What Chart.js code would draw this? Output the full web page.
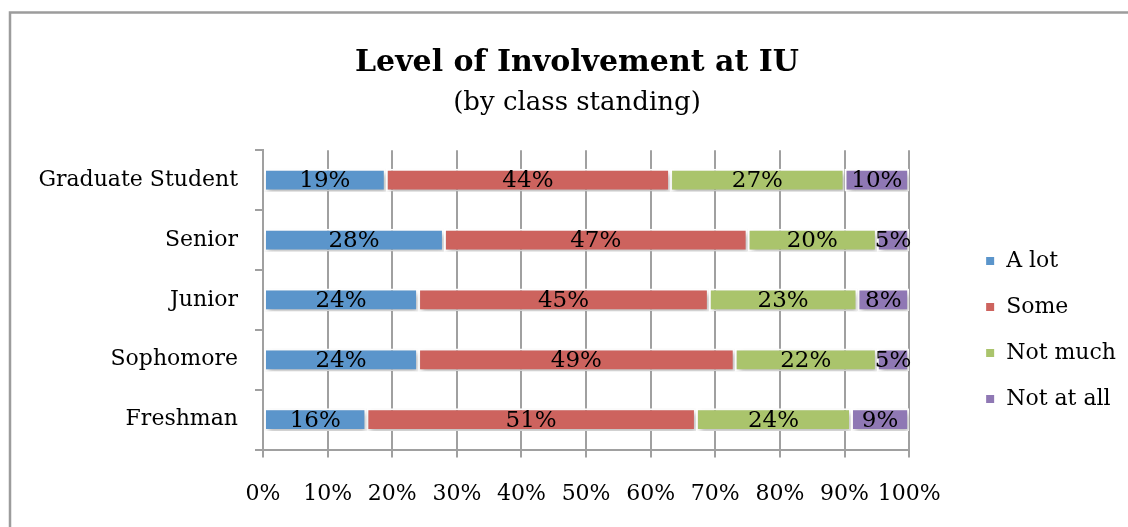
<!DOCTYPE html>
<html>
<head>
<meta charset="utf-8">
<script src="https://cdn.jsdelivr.net/npm/chart.js@4.4.1/dist/chart.umd.min.js"></script>
<style>
  html, body { margin: 0; padding: 0; background: #fff; }
  canvas { display: block; }
</style>
</head>
<body>
<canvas id="c" width="1128" height="527"></canvas>
<script>
const categories = ['Graduate Student', 'Senior', 'Junior', 'Sophomore', 'Freshman'];
const seriesNames = ['A lot', 'Some', 'Not much', 'Not at all'];
const aLot     = [19, 28, 24, 24, 16];
const some     = [44, 47, 45, 49, 51];
const notMuch  = [27, 20, 23, 22, 24];
const notAtAll = [10, 5, 8, 5, 9];
const seriesColors = ['#5B95CB', '#CD635E', '#AAC46C', '#8F78B4'];

const FONT = "'DejaVu Serif', serif";
const GRID = '#a0a0a0';

const framePlugin = {
  id: 'frame',
  beforeDraw(chart) {
    const ctx = chart.ctx;
    ctx.save();
    ctx.fillStyle = '#fff';
    ctx.fillRect(0, 0, chart.width, chart.height);
    ctx.strokeStyle = '#9c9c9c';
    ctx.lineWidth = 2.5;
    ctx.beginPath();
    ctx.moveTo(10, chart.height + 5);
    ctx.lineTo(10, 12.5);
    ctx.lineTo(chart.width + 5, 12.5);
    ctx.stroke();
    ctx.restore();
  }
};

const shadowPlugin = {
  id: 'barShadow',
  beforeDatasetsDraw(chart) {
    const ctx = chart.ctx;
    ctx.save();
    ctx.shadowColor = 'rgba(0,0,0,0.28)';
    ctx.shadowBlur = 5;
    ctx.shadowOffsetX = 2;
    ctx.shadowOffsetY = 3;
  },
  afterDatasetsDraw(chart) {
    chart.ctx.restore();
  }
};

const labelPlugin = {
  id: 'segLabels',
  afterDatasetsDraw(chart) {
    const ctx = chart.ctx;
    ctx.save();
    ctx.fillStyle = '#000';
    ctx.font = "23px " + FONT;
    ctx.textAlign = 'center';
    ctx.textBaseline = 'middle';
    chart.data.datasets.forEach((ds, di) => {
      const meta = chart.getDatasetMeta(di);
      meta.data.forEach((el, i) => {
        const cx = (el.x + el.base) / 2;
        ctx.fillText(ds.data[i] + '%', cx, el.y + 1);
      });
    });
    ctx.restore();
  }
};

const datasets = [aLot, some, notMuch, notAtAll].map((vals, k) => ({
  label: seriesNames[k],
  data: vals,
  backgroundColor: seriesColors[k],
  borderColor: '#ffffff',
  borderWidth: 2,
  borderSkipped: false,
  barPercentage: 0.38,
  categoryPercentage: 1.0,
  xAxisID: 'x',
  yAxisID: 'y'
}));

new Chart(document.getElementById('c'), {
  type: 'bar',
  data: { labels: categories, datasets },
  plugins: [framePlugin, shadowPlugin, labelPlugin],
  options: {
    indexAxis: 'y',
    responsive: false,
    animation: false,
    layout: { padding: { left: 28, right: 2, top: 0, bottom: -3 } },
    plugins: {
      title: {
        display: true,
        text: 'Level of Involvement at IU',
        color: '#000',
        font: { family: FONT, size: 30, weight: 'bold' },
        padding: { top: 45, bottom: 2 }
      },
      subtitle: {
        display: true,
        text: '(by class standing)',
        color: '#000',
        font: { family: FONT, size: 26 },
        padding: { top: 5, bottom: 31 }
      },
      legend: {
        display: true,
        position: 'right',
        align: 'center',
        title: {
          display: true,
          text: ' ',
          font: { size: 10 },
          padding: { top: 118, bottom: 0 }
        },
        labels: {
          boxWidth: 10,
          boxHeight: 10,
          padding: 24,
          color: '#000',
          font: { family: FONT, size: 22 }
        }
      },
      tooltip: { enabled: false }
    },
    scales: {
      x: {
        type: 'linear',
        stacked: true,
        min: 0,
        max: 100,
        ticks: {
          stepSize: 10,
          color: '#000',
          font: { family: FONT, size: 22 },
          padding: 23,
          maxRotation: 0,
          minRotation: 0,
          autoSkip: false,
          callback: v => v + '%'
        },
        grid: { color: GRID, lineWidth: 2, tickLength: 8, drawTicks: true },
        border: { display: true, color: GRID, width: 2 }
      },
      y: {
        type: 'category',
        stacked: true,
        offset: true,
        ticks: {
          color: '#000',
          font: { family: FONT, size: 22 },
          padding: 17
        },
        grid: { offset: true, drawOnChartArea: false, drawTicks: true, tickLength: 8, color: GRID, lineWidth: 2 },
        border: { display: true, color: GRID, width: 2 },
        afterFit(s) { s.width = 235; }
      },
      spacer: {
        type: 'linear',
        position: 'right',
        display: true,
        grid: { display: false, drawTicks: false },
        border: { display: false },
        ticks: { display: false },
        afterFit(s) { s.width = 52; }
      }
    }
  }
});
</script>
</body>
</html>
